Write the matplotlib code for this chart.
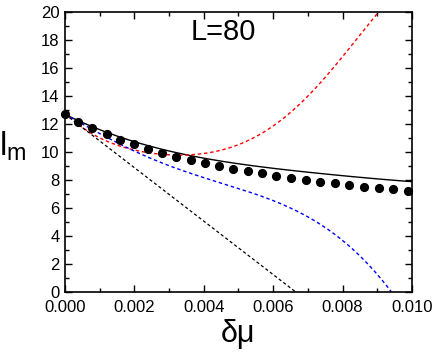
import numpy as np
import matplotlib
matplotlib.use("Agg")
from matplotlib import pyplot as plt
from numpy.polynomial import polynomial as P

plt.rcParams['font.family'] = ['Liberation Sans', 'DejaVu Sans']
plt.rcParams['mathtext.fontset'] = 'custom'
plt.rcParams['mathtext.rm'] = 'Liberation Sans'
plt.rcParams['mathtext.it'] = 'Liberation Sans'

# data
dmu_dots = [0.0, 0.00038, 0.00079, 0.0012, 0.00159, 0.0020, 0.0024, 0.0028,
            0.0032, 0.00362, 0.00403, 0.00444, 0.00485, 0.00527, 0.00568,
            0.00609, 0.0065, 0.00694, 0.00735, 0.00777, 0.00819, 0.00862,
            0.00904, 0.00946, 0.00989]
lm_dots = [12.71, 12.16, 11.69, 11.26, 10.86, 10.55, 10.21, 9.93, 9.66,
           9.41, 9.21, 9.02, 8.81, 8.64, 8.48, 8.31, 8.16, 8.02, 7.88, 7.76,
           7.64, 7.52, 7.41, 7.33, 7.21]

dmu_solid = [0.0, 0.0004, 0.0008, 0.0012, 0.0016, 0.002, 0.0025, 0.003,
             0.0035, 0.004, 0.005, 0.006, 0.007, 0.008, 0.009, 0.010]
lm_solid = [12.7, 12.2, 11.8, 11.4, 11.05, 10.75, 10.4, 10.05, 9.8, 9.55,
            9.15, 8.85, 8.55, 8.3, 8.08, 7.88]

dmu_red = [0.0, 0.0004, 0.0008, 0.0012, 0.0016, 0.002, 0.0025, 0.003,
           0.0035, 0.004, 0.0045, 0.005, 0.0055, 0.006, 0.0065, 0.007,
           0.0075, 0.008, 0.0085, 0.0091]
lm_red = [12.7, 12.0, 11.4, 10.85, 10.4, 10.05, 9.8, 9.7, 9.75, 9.95, 10.25,
          10.65, 11.2, 11.85, 12.7, 13.8, 15.2, 16.9, 18.7, 20.0]

dmu_blue = [0.0, 0.001, 0.002, 0.003, 0.004, 0.005, 0.006, 0.007, 0.008,
            0.009, 0.0094]
lm_blue = [12.7, 11.3, 10.1, 9.0, 8.15, 7.4, 6.55, 5.35, 3.65, 1.3, 0.0]

dmu_lin = [0.0, 0.00665]
lm_lin = [12.7, 0.0]


def smooth(x, y, n=200):
    # smooth curve through the read points, for drawing only
    x = np.asarray(x)
    y = np.asarray(y)
    xs = np.linspace(x[0], x[-1], n)
    c = P.polyfit(x, y, min(5, len(x) - 1))
    return xs, P.polyval(xs, c)


fig = plt.figure(figsize=(4.36, 3.52), dpi=100)
ax = fig.add_axes([0.149, 0.1705, 0.796, 0.7955])

ax.plot(*smooth(dmu_solid, lm_solid), color='k', lw=1.0)
ax.plot(*smooth(dmu_red, lm_red), color='red', lw=1.0, ls=(0, (2.5, 2)))
ax.plot(*smooth(dmu_blue, lm_blue), color='blue', lw=1.0, ls=(0, (2.5, 2)))
ax.plot(dmu_lin, lm_lin, color='k', lw=0.9, ls=(0, (2.5, 2)))
ax.plot(dmu_dots, lm_dots, 'o', color='k', ms=5.6, ls='none', clip_on=False,
        zorder=5)

ax.set_xlim(0, 0.010)
ax.set_ylim(0, 20)
ax.set_xticks(np.arange(0, 0.0101, 0.002))
ax.set_xticklabels(['0.000', '0.002', '0.004', '0.006', '0.008', '0.010'])
ax.set_xticks(np.arange(0.001, 0.010, 0.002), minor=True)
ax.set_yticks(np.arange(0, 21, 2))
ax.set_yticks(np.arange(1, 20, 2), minor=True)
ax.tick_params(which='both', direction='in', top=True, right=True,
               labelsize=12, width=1.0)
ax.tick_params(axis='x', pad=6)
ax.tick_params(axis='y', pad=4)
ax.tick_params(which='major', length=5)
ax.tick_params(which='minor', length=3)
for s in ax.spines.values():
    s.set_linewidth(1.2)

ax.set_xlabel('δμ', fontsize=22, labelpad=3)
ax.set_ylabel(r'$\mathrm{l}_\mathrm{m}$', fontsize=24, rotation=0,
              va='center')
ax.yaxis.set_label_coords(-0.15, 0.52)
ax.text(0.455, 0.93, 'L=80', transform=ax.transAxes, fontsize=21,
        ha='center', va='center')

fig.savefig('out.png', dpi=100)
